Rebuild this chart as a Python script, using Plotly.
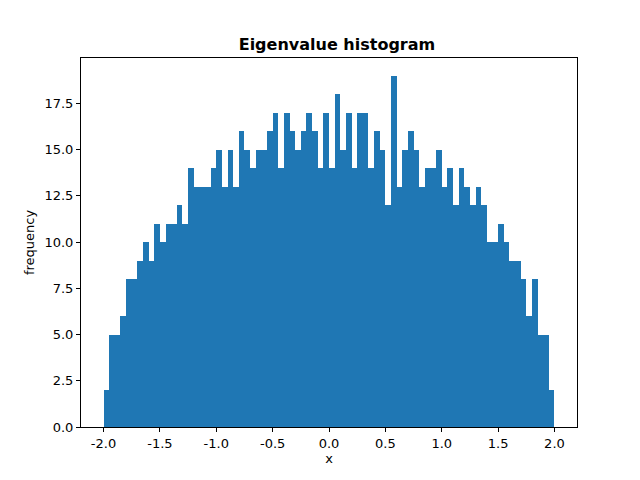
import plotly.graph_objects as go

bin_start = -2.0
bin_width = 0.05
counts = [2,5,5,6,8,8,9,10,9,11,
          10,11,11,12,11,14,13,13,13,14,
          15,13,15,13,16,15,14,15,15,16,
          17,14,17,16,15,16,17,16,14,17,
          14,18,15,17,14,17,17,14,16,15,
          12,19,13,15,16,15,13,14,14,15,
          13,14,12,14,13,12,13,12,10,10,
          11,10,9,9,8,6,8,5,5,2]
x_ticks = [-2.0, -1.5, -1.0, -0.5, 0.0, 0.5, 1.0, 1.5, 2.0]
y_ticks = [0.0, 2.5, 5.0, 7.5, 10.0, 12.5, 15.0, 17.5]

centers = [bin_start + bin_width * (i + 0.5) for i in range(len(counts))]

fig = go.Figure(go.Bar(x=centers, y=counts, width=bin_width,
                       marker=dict(color="#1f77b4", line=dict(width=0))))
axis_common = dict(showline=True, mirror=True, linecolor="black", linewidth=1,
                   ticks="outside", ticklen=4, tickcolor="black", showgrid=False,
                   zeroline=False, automargin=False,
                   tickfont=dict(size=13, family="DejaVu Sans", color="black"))
fig.update_layout(
    width=640, height=480, plot_bgcolor="white", paper_bgcolor="white",
    margin=dict(l=73, r=71, t=50, b=61),
    bargap=0, showlegend=False,
    title=dict(text="<b>Eigenvalue histogram</b>", x=0.514, xanchor="center", y=0.925, yanchor="middle",
               font=dict(size=16, family="DejaVu Sans", color="black")),
    xaxis=dict(range=[-2.2, 2.2], tickvals=x_ticks, ticktext=[f"{v:.1f}" for v in x_ticks],
               title=dict(text="x", font=dict(size=13, family="DejaVu Sans", color="black"), standoff=4),
               **axis_common),
    yaxis=dict(range=[0, 19.95], tickvals=y_ticks, ticktext=[f"{v:.1f}" for v in y_ticks],
               title=dict(text="frequency", font=dict(size=13, family="DejaVu Sans", color="black"), standoff=6),
               **axis_common),
)
fig.write_html("out.html")
